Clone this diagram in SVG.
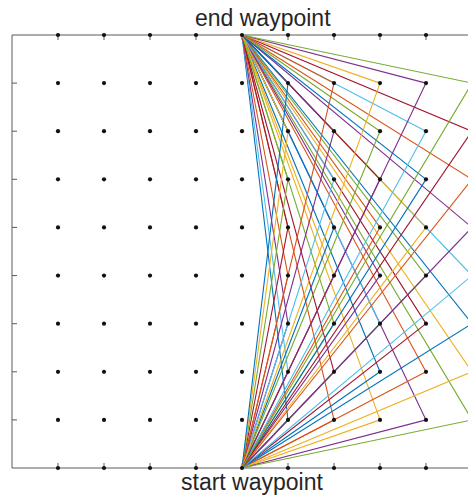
<svg xmlns="http://www.w3.org/2000/svg" width="468" height="499" viewBox="0 0 468 499">
<style>
.ax{stroke:#5a5a5a;stroke-width:1;fill:none}
.tk{stroke:#5a5a5a;stroke-width:1}
.p{fill:none;stroke-width:1.1;stroke-linejoin:round}
.c0{stroke:#0072BD}.c1{stroke:#D95319}.c2{stroke:#EDB120}.c3{stroke:#7E2F8E}.c4{stroke:#77AC30}.c5{stroke:#4DBEEE}.c6{stroke:#A2142F}
.lbl{font-family:"Liberation Sans",Arial,sans-serif;font-size:23px;fill:#262626}
</style>
<defs>
<circle id="d" r="2.1" fill="#111"/>
</defs>
<rect width="468" height="499" fill="#fff"/>
<g id="axes">
<path class="ax" d="M12,35H480M12,35V468M12,468H480"/>
<path class="tk" d="M12,83.1h5M12,131.2h5M12,179.3h5M12,227.4h5M12,275.6h5M12,323.7h5M12,371.8h5M12,419.9h5
M58,35v5M104,35v5M150,35v5M196,35v5M242,35v5M288,35v5M334,35v5M380,35v5M426,35v5
M58,468v-5M104,468v-5M150,468v-5M196,468v-5M242,468v-5M288,468v-5M334,468v-5M380,468v-5M426,468v-5"/>
</g>
<g id="connectors">
<polyline class="p c0" points="242,468 288,419.89 242,35"/>
<polyline class="p c1" points="242,468 334,419.89 242,35"/>
<polyline class="p c2" points="242,468 380,419.89 242,35"/>
<polyline class="p c3" points="242,468 426,419.89 242,35"/>
<polyline class="p c4" points="242,468 472,419.89 242,35"/>
<polyline class="p c5" points="242,468 288,371.78 242,35"/>
<polyline class="p c6" points="242,468 334,371.78 242,35"/>
<polyline class="p c0" points="242,468 380,371.78 242,35"/>
<polyline class="p c1" points="242,468 426,371.78 242,35"/>
<polyline class="p c2" points="242,468 472,371.78 242,35"/>
<polyline class="p c3" points="242,468 288,323.67 242,35"/>
<polyline class="p c4" points="242,468 334,323.67 242,35"/>
<polyline class="p c5" points="242,468 380,323.67 242,35"/>
<polyline class="p c6" points="242,468 426,323.67 242,35"/>
<polyline class="p c0" points="242,468 472,323.67 242,35"/>
<polyline class="p c1" points="242,468 288,275.56 242,35"/>
<polyline class="p c2" points="242,468 334,275.56 242,35"/>
<polyline class="p c3" points="242,468 380,275.56 242,35"/>
<polyline class="p c4" points="242,468 426,275.56 242,35"/>
<polyline class="p c5" points="242,468 472,275.56 242,35"/>
<polyline class="p c6" points="242,468 288,227.44 242,35"/>
<polyline class="p c0" points="242,468 334,227.44 242,35"/>
<polyline class="p c1" points="242,468 380,227.44 242,35"/>
<polyline class="p c2" points="242,468 426,227.44 242,35"/>
<polyline class="p c3" points="242,468 472,227.44 242,35"/>
<polyline class="p c4" points="242,468 288,179.33 242,35"/>
<polyline class="p c5" points="242,468 334,179.33 242,35"/>
<polyline class="p c6" points="242,468 380,179.33 242,35"/>
<polyline class="p c0" points="242,468 426,179.33 242,35"/>
<polyline class="p c1" points="242,468 472,179.33 242,35"/>
<polyline class="p c2" points="242,468 288,131.22 242,35"/>
<polyline class="p c3" points="242,468 334,131.22 242,35"/>
<polyline class="p c4" points="242,468 380,131.22 242,35"/>
<polyline class="p c5" points="242,468 426,131.22 242,35"/>
<polyline class="p c6" points="242,468 472,131.22 242,35"/>
<polyline class="p c0" points="242,468 288,83.11 242,35"/>
<polyline class="p c1" points="242,468 334,83.11 242,35"/>
<polyline class="p c2" points="242,468 380,83.11 242,35"/>
<polyline class="p c3" points="242,468 426,83.11 242,35"/>
<polyline class="p c4" points="242,468 472,83.11 242,35"/>
</g>
<g id="grid-points">
<g id="row0"><use href="#d" x="58" y="468"/><use href="#d" x="104" y="468"/><use href="#d" x="150" y="468"/><use href="#d" x="196" y="468"/><use href="#d" x="288" y="468"/><use href="#d" x="334" y="468"/><use href="#d" x="380" y="468"/><use href="#d" x="426" y="468"/></g>
<g id="row1"><use href="#d" x="58" y="419.89"/><use href="#d" x="104" y="419.89"/><use href="#d" x="150" y="419.89"/><use href="#d" x="196" y="419.89"/><use href="#d" x="242" y="419.89"/><use href="#d" x="288" y="419.89"/><use href="#d" x="334" y="419.89"/><use href="#d" x="380" y="419.89"/><use href="#d" x="426" y="419.89"/></g>
<g id="row2"><use href="#d" x="58" y="371.78"/><use href="#d" x="104" y="371.78"/><use href="#d" x="150" y="371.78"/><use href="#d" x="196" y="371.78"/><use href="#d" x="242" y="371.78"/><use href="#d" x="288" y="371.78"/><use href="#d" x="334" y="371.78"/><use href="#d" x="380" y="371.78"/><use href="#d" x="426" y="371.78"/></g>
<g id="row3"><use href="#d" x="58" y="323.67"/><use href="#d" x="104" y="323.67"/><use href="#d" x="150" y="323.67"/><use href="#d" x="196" y="323.67"/><use href="#d" x="242" y="323.67"/><use href="#d" x="288" y="323.67"/><use href="#d" x="334" y="323.67"/><use href="#d" x="380" y="323.67"/><use href="#d" x="426" y="323.67"/></g>
<g id="row4"><use href="#d" x="58" y="275.56"/><use href="#d" x="104" y="275.56"/><use href="#d" x="150" y="275.56"/><use href="#d" x="196" y="275.56"/><use href="#d" x="242" y="275.56"/><use href="#d" x="288" y="275.56"/><use href="#d" x="334" y="275.56"/><use href="#d" x="380" y="275.56"/><use href="#d" x="426" y="275.56"/></g>
<g id="row5"><use href="#d" x="58" y="227.44"/><use href="#d" x="104" y="227.44"/><use href="#d" x="150" y="227.44"/><use href="#d" x="196" y="227.44"/><use href="#d" x="242" y="227.44"/><use href="#d" x="288" y="227.44"/><use href="#d" x="334" y="227.44"/><use href="#d" x="380" y="227.44"/><use href="#d" x="426" y="227.44"/></g>
<g id="row6"><use href="#d" x="58" y="179.33"/><use href="#d" x="104" y="179.33"/><use href="#d" x="150" y="179.33"/><use href="#d" x="196" y="179.33"/><use href="#d" x="242" y="179.33"/><use href="#d" x="288" y="179.33"/><use href="#d" x="334" y="179.33"/><use href="#d" x="380" y="179.33"/><use href="#d" x="426" y="179.33"/></g>
<g id="row7"><use href="#d" x="58" y="131.22"/><use href="#d" x="104" y="131.22"/><use href="#d" x="150" y="131.22"/><use href="#d" x="196" y="131.22"/><use href="#d" x="242" y="131.22"/><use href="#d" x="288" y="131.22"/><use href="#d" x="334" y="131.22"/><use href="#d" x="380" y="131.22"/><use href="#d" x="426" y="131.22"/></g>
<g id="row8"><use href="#d" x="58" y="83.11"/><use href="#d" x="104" y="83.11"/><use href="#d" x="150" y="83.11"/><use href="#d" x="196" y="83.11"/><use href="#d" x="242" y="83.11"/><use href="#d" x="288" y="83.11"/><use href="#d" x="334" y="83.11"/><use href="#d" x="380" y="83.11"/><use href="#d" x="426" y="83.11"/></g>
<g id="row9"><use href="#d" x="58" y="35"/><use href="#d" x="104" y="35"/><use href="#d" x="150" y="35"/><use href="#d" x="196" y="35"/><use href="#d" x="288" y="35"/><use href="#d" x="334" y="35"/><use href="#d" x="380" y="35"/><use href="#d" x="426" y="35"/></g>
</g>
<g id="end-waypoint">
<use href="#d" x="242" y="35"/>
<text class="lbl" x="195" y="26">end waypoint</text>
</g>
<g id="start-waypoint">
<use href="#d" x="242" y="468"/>
<text class="lbl" x="181" y="490">start waypoint</text>
</g>
</svg>
